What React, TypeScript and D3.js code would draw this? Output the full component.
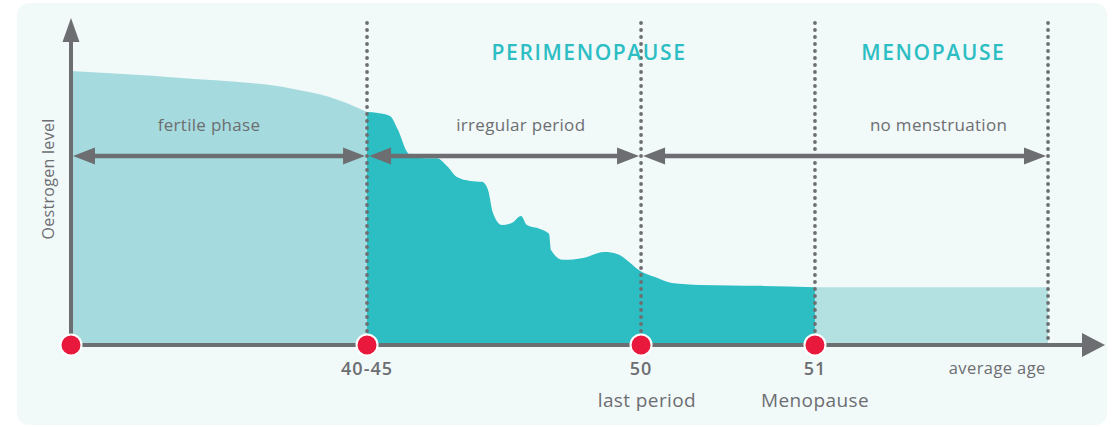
import React, { useEffect, useRef } from 'react'
import * as d3 from 'd3'

// timeline position (0 = origin, 100 = end of axis) and oestrogen level (0-100)
const fertilePos = [0, 10, 21.5, 25, 28.63]
const fertileLevel = [84.3, 82.3, 78.8, 76.3, 71.7]

const periPos = [
  28.63, 29.69, 30.85, 31.62, 32.5, 33.17, 34.24, 35.4, 36.36, 37.33, 38.59, 39.75, 40.33, 40.81,
  41.68, 42.75, 43.52, 44.1, 45.36, 46.23, 46.42, 47.58, 49.52, 51.64, 52.8, 55.22, 56.48, 58.12,
  60.83, 66.63, 71.95,
]
const periLevel = [
  71.7, 71.4, 70.5, 66.2, 59.4, 57.8, 57.5, 57.5, 55.1, 51.7, 50.5, 50.2, 47.7, 40.6, 36.9, 37.8,
  39.7, 36.9, 35.7, 34.2, 29.2, 26.2, 26.8, 28.6, 28.0, 22.5, 20.9, 19.1, 18.5, 18.2, 17.8,
]

const menoPos = [71.95, 94.49]
const menoLevel = [17.8, 17.8]

const markerPos = [0, 28.63, 55.13, 71.95]
const dividerPos = [28.63, 55.13, 71.95, 94.49]

const spanFrom = [0, 28.63, 55.13]
const spanTo = [28.63, 55.13, 94.49]
const spanLabels = ['fertile phase', 'irregular period', 'no menstruation']
const spanLabelPos = [13.35, 43.5, 83.9]

const phaseTitles = ['PERIMENOPAUSE', 'MENOPAUSE']
const phaseTitlePos = [50.1, 83.4]

const tickLabels = ['40-45', '50', '51']
const tickPos = [28.63, 55.13, 71.95]

const eventLabels = ['last period', 'Menopause']
const eventPos = [55.7, 71.95]

const GREY = '#6d6e71'
const TEAL = '#2dbec4'
const FONT = "'Open Sans', 'Noto Sans', sans-serif"

export default function App() {
  const svgRef = useRef<SVGSVGElement>(null)

  useEffect(() => {
    if (!svgRef.current) return
    const svg = d3.select(svgRef.current)
    svg.selectAll('*').remove()

    const x = d3.scaleLinear().domain([0, 100]).range([71, 1105])
    const y = d3.scaleLinear().domain([0, 100]).range([345, 20])

    svg
      .append('rect')
      .attr('x', 17)
      .attr('y', 3)
      .attr('width', 1090)
      .attr('height', 422)
      .attr('rx', 12)
      .attr('fill', '#f1f9f9')

    const area = d3
      .area<[number, number]>()
      .x((d) => x(d[0]))
      .y0(y(0))
      .y1((d) => y(d[1]))
      .curve(d3.curveMonotoneX)

    const zip = (a: number[], b: number[]) => a.map((v, i) => [v, b[i]] as [number, number])

    svg.append('path').datum(zip(fertilePos, fertileLevel)).attr('fill', '#a5dbde').attr('d', area)
    svg.append('path').datum(zip(menoPos, menoLevel)).attr('fill', '#b3e1e2').attr('d', area)
    svg.append('path').datum(zip(periPos, periLevel)).attr('fill', TEAL).attr('d', area)

    // dotted dividers
    svg
      .selectAll('.divider')
      .data(dividerPos)
      .join('line')
      .attr('class', 'divider')
      .attr('x1', (d) => x(d))
      .attr('x2', (d) => x(d))
      .attr('y1', y(0))
      .attr('y2', y(101))
      .attr('stroke', GREY)
      .attr('stroke-width', 3.8)
      .attr('stroke-linecap', 'round')
      .attr('stroke-dasharray', '0 7')

    // axes
    const yTop = y(100.6)
    svg
      .append('line')
      .attr('x1', x(0))
      .attr('x2', x(0))
      .attr('y1', y(0))
      .attr('y2', yTop + 20)
      .attr('stroke', GREY)
      .attr('stroke-width', 4)
    svg
      .append('path')
      .attr('d', `M${x(0)},${yTop} L${x(0) - 8.5},${yTop + 24} L${x(0) + 8.5},${yTop + 24} Z`)
      .attr('fill', GREY)

    svg
      .append('line')
      .attr('x1', x(0))
      .attr('x2', x(100) - 20)
      .attr('y1', y(0))
      .attr('y2', y(0))
      .attr('stroke', GREY)
      .attr('stroke-width', 4)
    svg
      .append('path')
      .attr('d', `M${x(100)},${y(0)} L${x(100) - 23},${y(0) - 12} L${x(100) - 23},${y(0) + 12} Z`)
      .attr('fill', GREY)

    // span arrows
    const rowY = y(58.15)
    spanFrom.forEach((from, i) => {
      const x1 = x(from)
      const x2 = x(spanTo[i])
      const g = svg.append('g')
      g.append('line')
        .attr('x1', x1 + 10)
        .attr('x2', x2 - 10)
        .attr('y1', rowY)
        .attr('y2', rowY)
        .attr('stroke', GREY)
        .attr('stroke-width', 4.5)
      g.append('path')
        .attr('d', `M${x1 + 2},${rowY} L${x1 + 24},${rowY - 8.5} L${x1 + 24},${rowY + 8.5} Z`)
        .attr('fill', GREY)
      g.append('path')
        .attr('d', `M${x2 - 2},${rowY} L${x2 - 24},${rowY - 8.5} L${x2 - 24},${rowY + 8.5} Z`)
        .attr('fill', GREY)
      g.append('text')
        .attr('x', x(spanLabelPos[i]))
        .attr('y', rowY - 25)
        .attr('text-anchor', 'middle')
        .attr('font-family', FONT)
        .attr('font-size', 17)
        .attr('letter-spacing', 0.3)
        .attr('fill', GREY)
        .text(spanLabels[i])
    })

    // markers
    svg
      .selectAll('.marker')
      .data(markerPos)
      .join('circle')
      .attr('class', 'marker')
      .attr('cx', (d) => x(d))
      .attr('cy', y(0))
      .attr('r', 10.5)
      .attr('fill', '#e8193c')
      .attr('stroke', 'white')
      .attr('stroke-width', 2)

    // phase titles
    phaseTitles.forEach((t, i) => {
      svg
        .append('text')
        .attr('x', x(phaseTitlePos[i]))
        .attr('y', 60)
        .attr('text-anchor', 'middle')
        .attr('font-family', FONT)
        .attr('font-size', 21)
        .attr('font-weight', 600)
        .attr('letter-spacing', 1.6)
        .attr('fill', TEAL)
        .text(t)
    })

    // tick labels
    tickLabels.forEach((t, i) => {
      svg
        .append('text')
        .attr('x', x(tickPos[i]))
        .attr('y', 375)
        .attr('text-anchor', 'middle')
        .attr('font-family', FONT)
        .attr('font-size', 18)
        .attr('font-weight', 600)
        .attr('letter-spacing', 1)
        .attr('fill', GREY)
        .text(t)
    })

    svg
      .append('text')
      .attr('x', x(89.58))
      .attr('y', 374)
      .attr('text-anchor', 'middle')
      .attr('font-family', FONT)
      .attr('font-size', 16.5)
      .attr('letter-spacing', 0.4)
      .attr('fill', GREY)
      .text('average age')

    eventLabels.forEach((t, i) => {
      svg
        .append('text')
        .attr('x', x(eventPos[i]))
        .attr('y', 407)
        .attr('text-anchor', 'middle')
        .attr('font-family', FONT)
        .attr('font-size', 19)
        .attr('letter-spacing', 0.4)
        .attr('fill', GREY)
        .text(t)
    })

    svg
      .append('text')
      .attr('transform', `translate(54, 179) rotate(-90)`)
      .attr('text-anchor', 'middle')
      .attr('font-family', FONT)
      .attr('font-size', 16)
      .attr('letter-spacing', 0.3)
      .attr('fill', GREY)
      .text('Oestrogen level')
  }, [])

  return (
    <svg
      ref={svgRef}
      width={1112}
      height={427}
      style={{ position: 'absolute', left: 0, top: 0, background: 'white' }}
    />
  )
}
